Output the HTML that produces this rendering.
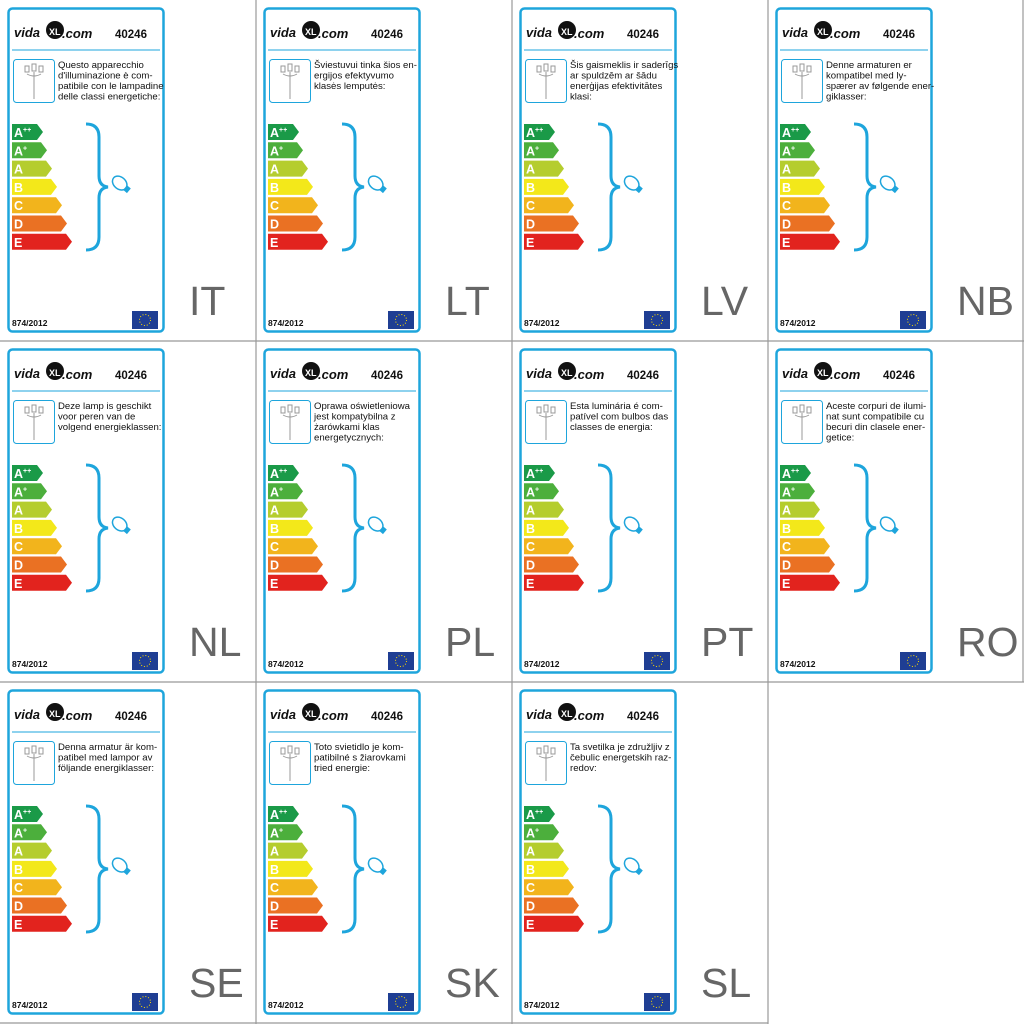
<!DOCTYPE html>
<html><head><meta charset="utf-8"><style>
html,body{margin:0;padding:0;background:#fff}
svg{display:block}
.t{font-family:"Liberation Sans",sans-serif;font-size:9.6px;fill:#111}
.b{font-family:"Liberation Sans",sans-serif;font-weight:bold;fill:#fff;font-size:12.5px}
.s{font-size:7px}
.n{font-family:"Liberation Sans",sans-serif;font-weight:bold;font-size:11.5px;fill:#111}
.r{font-family:"Liberation Sans",sans-serif;font-weight:bold;font-size:8.5px;fill:#111}
.lg{font-family:"Liberation Sans",sans-serif;font-weight:bold;font-style:italic;font-size:13px;fill:#111}
.L{font-family:"Liberation Sans",sans-serif;font-size:41px;fill:#666}
</style></head><body>
<svg width="1024" height="1024" viewBox="0 0 1024 1024" xmlns="http://www.w3.org/2000/svg">
<defs>
<g id="c">
<rect x="8.5" y="8.5" width="155" height="323" rx="4" fill="none" stroke="#1ea5dc" stroke-width="2.5"/>
<line x1="12" y1="50" x2="160" y2="50" stroke="#1ea5dc" stroke-width="1"/>
<circle cx="55" cy="30" r="9" fill="#111"/>
<rect x="13.5" y="59.5" width="41" height="43" rx="3" fill="none" stroke="#1ea5dc" stroke-width="1"/>
<g stroke="#999" stroke-width="1" fill="none"><line x1="34" y1="72" x2="34" y2="99"/><rect x="25" y="66" width="4" height="6"/><rect x="32" y="64" width="4" height="7"/><rect x="39" y="66" width="4" height="6"/><path d="M27 74 Q34 78 41 74"/></g>
<polygon points="12,124 37,124 43,132 37,140 12,140" fill="#1a9a48"/>
<polygon points="12,142.3 41,142.3 47,150.3 41,158.3 12,158.3" fill="#4caf3c"/>
<polygon points="12,160.6 46,160.6 52,168.6 46,176.6 12,176.6" fill="#b5cd2e"/>
<polygon points="12,178.9 51,178.9 57,186.9 51,194.9 12,194.9" fill="#f3e81a"/>
<polygon points="12,197.2 56,197.2 62,205.2 56,213.2 12,213.2" fill="#f2b41c"/>
<polygon points="12,215.5 61,215.5 67,223.5 61,231.5 12,231.5" fill="#ea7123"/>
<polygon points="12,233.8 66,233.8 72,241.8 66,249.8 12,249.8" fill="#e2231e"/>
<path d="M86,124 Q99,124 99,137 L99,176 Q99,186 108,187 Q99,188 99,198 L99,237 Q99,250 86,250" fill="none" stroke="#1ea5dc" stroke-width="3"/>
<g transform="rotate(40 122 185)"><ellipse cx="119" cy="185" rx="8" ry="6" fill="none" stroke="#1ea5dc" stroke-width="1.5"/><rect x="126" y="182" width="5" height="6" fill="#1ea5dc"/></g>
<rect x="132" y="311" width="26" height="18" fill="#1f3e93"/>
<circle cx="145" cy="320" r="5.5" fill="none" stroke="#ffdd00" stroke-width="1" stroke-dasharray="1 1.9"/>
</g>
<g id="x">
<text class="b" x="14" y="137">A<tspan class="s" dy="-5">++</tspan></text>
<text class="b" x="14" y="155.3">A<tspan class="s" dy="-5">+</tspan></text>
<text class="b" x="14" y="173.6">A</text><text class="b" x="14" y="191.9">B</text>
<text class="b" x="14" y="210.2">C</text><text class="b" x="14" y="228.5">D</text><text class="b" x="14" y="246.8">E</text>
</g>
</defs>
<g stroke="#999" stroke-width="1.2"><line x1="256" y1="0" x2="256" y2="1024"/><line x1="512" y1="0" x2="512" y2="1024"/><line x1="768" y1="0" x2="768" y2="1024"/><line x1="0" y1="341" x2="1024" y2="341"/><line x1="0" y1="682" x2="1024" y2="682"/><line x1="1023" y1="0" x2="1023" y2="682"/><line x1="0" y1="1023" x2="768" y2="1023"/></g>

<g transform="translate(0,0)"><use href="#c"/><use href="#x"/><text class="lg" x="14" y="37">vida</text><text x="49" y="35" font-family="Liberation Sans" font-weight="bold" font-size="9" fill="#fff">XL</text><text class="lg" x="62" y="38">.com</text><text class="n" x="115" y="38">40246</text><text class="r" x="12" y="326">874/2012</text>
<text class="t" x="58" y="68">Questo apparecchio</text><text class="t" x="58" y="78.5">d'illuminazione è com-</text><text class="t" x="58" y="89">patibile con le lampadine</text><text class="t" x="58" y="99.5">delle classi energetiche:</text><text class="L" x="189" y="315">IT</text></g>

<g transform="translate(256,0)"><use href="#c"/><use href="#x"/><text class="lg" x="14" y="37">vida</text><text x="49" y="35" font-family="Liberation Sans" font-weight="bold" font-size="9" fill="#fff">XL</text><text class="lg" x="62" y="38">.com</text><text class="n" x="115" y="38">40246</text><text class="r" x="12" y="326">874/2012</text>
<text class="t" x="58" y="68">Šviestuvui tinka šios en-</text><text class="t" x="58" y="78.5">ergijos efektyvumo</text><text class="t" x="58" y="89">klasės lemputės:</text><text class="L" x="189" y="315">LT</text></g>

<g transform="translate(512,0)"><use href="#c"/><use href="#x"/><text class="lg" x="14" y="37">vida</text><text x="49" y="35" font-family="Liberation Sans" font-weight="bold" font-size="9" fill="#fff">XL</text><text class="lg" x="62" y="38">.com</text><text class="n" x="115" y="38">40246</text><text class="r" x="12" y="326">874/2012</text>
<text class="t" x="58" y="68">Šis gaismeklis ir saderīgs</text><text class="t" x="58" y="78.5">ar spuldzēm ar šādu</text><text class="t" x="58" y="89">enerģijas efektivitātes</text><text class="t" x="58" y="99.5">klasi:</text><text class="L" x="189" y="315">LV</text></g>

<g transform="translate(768,0)"><use href="#c"/><use href="#x"/><text class="lg" x="14" y="37">vida</text><text x="49" y="35" font-family="Liberation Sans" font-weight="bold" font-size="9" fill="#fff">XL</text><text class="lg" x="62" y="38">.com</text><text class="n" x="115" y="38">40246</text><text class="r" x="12" y="326">874/2012</text>
<text class="t" x="58" y="68">Denne armaturen er</text><text class="t" x="58" y="78.5">kompatibel med ly-</text><text class="t" x="58" y="89">spærer av følgende ener-</text><text class="t" x="58" y="99.5">giklasser:</text><text class="L" x="189" y="315">NB</text></g>

<g transform="translate(0,341)"><use href="#c"/><use href="#x"/><text class="lg" x="14" y="37">vida</text><text x="49" y="35" font-family="Liberation Sans" font-weight="bold" font-size="9" fill="#fff">XL</text><text class="lg" x="62" y="38">.com</text><text class="n" x="115" y="38">40246</text><text class="r" x="12" y="326">874/2012</text>
<text class="t" x="58" y="68">Deze lamp is geschikt</text><text class="t" x="58" y="78.5">voor peren van de</text><text class="t" x="58" y="89">volgend energieklassen:</text><text class="L" x="189" y="315">NL</text></g>

<g transform="translate(256,341)"><use href="#c"/><use href="#x"/><text class="lg" x="14" y="37">vida</text><text x="49" y="35" font-family="Liberation Sans" font-weight="bold" font-size="9" fill="#fff">XL</text><text class="lg" x="62" y="38">.com</text><text class="n" x="115" y="38">40246</text><text class="r" x="12" y="326">874/2012</text>
<text class="t" x="58" y="68">Oprawa oświetleniowa</text><text class="t" x="58" y="78.5">jest kompatybilna z</text><text class="t" x="58" y="89">żarówkami klas</text><text class="t" x="58" y="99.5">energetycznych:</text><text class="L" x="189" y="315">PL</text></g>

<g transform="translate(512,341)"><use href="#c"/><use href="#x"/><text class="lg" x="14" y="37">vida</text><text x="49" y="35" font-family="Liberation Sans" font-weight="bold" font-size="9" fill="#fff">XL</text><text class="lg" x="62" y="38">.com</text><text class="n" x="115" y="38">40246</text><text class="r" x="12" y="326">874/2012</text>
<text class="t" x="58" y="68">Esta luminária é com-</text><text class="t" x="58" y="78.5">patível com bulbos das</text><text class="t" x="58" y="89">classes de energia:</text><text class="L" x="189" y="315">PT</text></g>

<g transform="translate(768,341)"><use href="#c"/><use href="#x"/><text class="lg" x="14" y="37">vida</text><text x="49" y="35" font-family="Liberation Sans" font-weight="bold" font-size="9" fill="#fff">XL</text><text class="lg" x="62" y="38">.com</text><text class="n" x="115" y="38">40246</text><text class="r" x="12" y="326">874/2012</text>
<text class="t" x="58" y="68">Aceste corpuri de ilumi-</text><text class="t" x="58" y="78.5">nat sunt compatibile cu</text><text class="t" x="58" y="89">becuri din clasele ener-</text><text class="t" x="58" y="99.5">getice:</text><text class="L" x="189" y="315">RO</text></g>

<g transform="translate(0,682)"><use href="#c"/><use href="#x"/><text class="lg" x="14" y="37">vida</text><text x="49" y="35" font-family="Liberation Sans" font-weight="bold" font-size="9" fill="#fff">XL</text><text class="lg" x="62" y="38">.com</text><text class="n" x="115" y="38">40246</text><text class="r" x="12" y="326">874/2012</text>
<text class="t" x="58" y="68">Denna armatur är kom-</text><text class="t" x="58" y="78.5">patibel med lampor av</text><text class="t" x="58" y="89">följande energiklasser:</text><text class="L" x="189" y="315">SE</text></g>

<g transform="translate(256,682)"><use href="#c"/><use href="#x"/><text class="lg" x="14" y="37">vida</text><text x="49" y="35" font-family="Liberation Sans" font-weight="bold" font-size="9" fill="#fff">XL</text><text class="lg" x="62" y="38">.com</text><text class="n" x="115" y="38">40246</text><text class="r" x="12" y="326">874/2012</text>
<text class="t" x="58" y="68">Toto svietidlo je kom-</text><text class="t" x="58" y="78.5">patibilné s žiarovkami</text><text class="t" x="58" y="89">tried energie:</text><text class="L" x="189" y="315">SK</text></g>

<g transform="translate(512,682)"><use href="#c"/><use href="#x"/><text class="lg" x="14" y="37">vida</text><text x="49" y="35" font-family="Liberation Sans" font-weight="bold" font-size="9" fill="#fff">XL</text><text class="lg" x="62" y="38">.com</text><text class="n" x="115" y="38">40246</text><text class="r" x="12" y="326">874/2012</text>
<text class="t" x="58" y="68">Ta svetilka je združljiv z</text><text class="t" x="58" y="78.5">čebulic energetskih raz-</text><text class="t" x="58" y="89">redov:</text><text class="L" x="189" y="315">SL</text></g>
</svg>
</body></html>
